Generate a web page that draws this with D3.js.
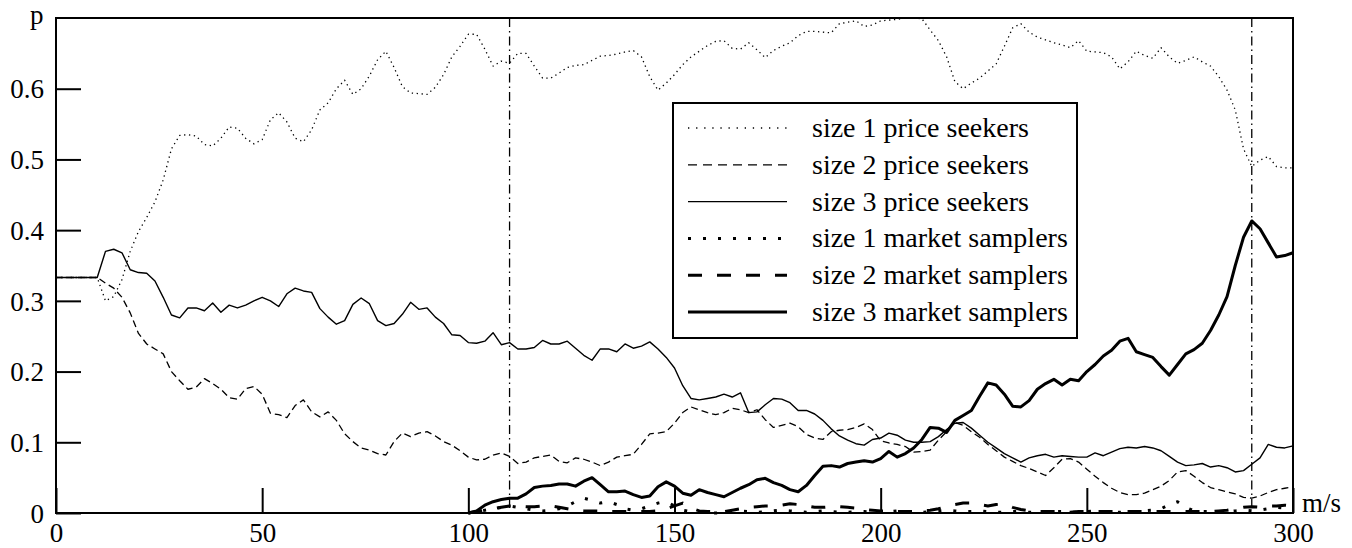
<!DOCTYPE html>
<html>
<head>
<meta charset="utf-8">
<script src="https://cdn.jsdelivr.net/npm/d3@7"></script>
<style>
  body { margin: 0; background: #fff; }
  svg { display: block; }
  text { font-family: "Liberation Serif", "Times New Roman", Times, serif; fill: #000; }
</style>
</head>
<body>
<svg id="chart" width="1352" height="548"></svg>
<script>
// one sample every 2 m/s; the market samplers only exist from 100 on
var step = 2;
var samplerStart = 100;

var size1PriceSeekers = [
  0.333, 0.333, 0.333, 0.333, 0.333, 0.333,
  0.300, 0.306, 0.330, 0.370, 0.398, 0.418, 0.440, 0.471, 0.515, 0.534,
  0.535, 0.533, 0.521, 0.519, 0.530, 0.546, 0.544, 0.530, 0.522, 0.528,
  0.556, 0.566, 0.553, 0.530, 0.525, 0.542, 0.570, 0.580, 0.600, 0.612,
  0.592, 0.600, 0.618, 0.641, 0.653, 0.630, 0.603, 0.594, 0.593, 0.592,
  0.602, 0.620, 0.645, 0.660, 0.677, 0.677, 0.656, 0.632, 0.639, 0.636,
  0.650, 0.650, 0.632, 0.615, 0.615, 0.622, 0.630, 0.633, 0.634, 0.640,
  0.646, 0.647, 0.649, 0.652, 0.654, 0.645, 0.617, 0.598, 0.608, 0.620,
  0.634, 0.645, 0.653, 0.661, 0.667, 0.668, 0.657, 0.656, 0.665, 0.655,
  0.644, 0.654, 0.660, 0.665, 0.675, 0.681, 0.681, 0.680, 0.679, 0.692,
  0.694, 0.696, 0.688, 0.690, 0.696, 0.697, 0.698, 0.700, 0.700, 0.699,
  0.683, 0.668, 0.645, 0.610, 0.600, 0.608, 0.615, 0.625, 0.635, 0.660,
  0.686, 0.692, 0.680, 0.673, 0.669, 0.665, 0.662, 0.658, 0.668, 0.653,
  0.652, 0.651, 0.645, 0.628, 0.638, 0.653, 0.647, 0.643, 0.658, 0.645,
  0.636, 0.640, 0.645, 0.638, 0.632, 0.617, 0.598, 0.570, 0.515, 0.490,
  0.499, 0.504, 0.490, 0.488, 0.488
];

var size2PriceSeekers = [
  0.333, 0.333, 0.333, 0.333, 0.333, 0.333,
  0.325, 0.318, 0.305, 0.283, 0.254, 0.239, 0.232, 0.225, 0.200, 0.187,
  0.175, 0.178, 0.190, 0.183, 0.175, 0.163, 0.161, 0.176, 0.179, 0.168,
  0.141, 0.139, 0.135, 0.152, 0.160, 0.143, 0.136, 0.143, 0.131, 0.112,
  0.101, 0.092, 0.089, 0.084, 0.082, 0.101, 0.113, 0.108, 0.113, 0.115,
  0.109, 0.101, 0.096, 0.088, 0.079, 0.075, 0.076, 0.082, 0.085, 0.080,
  0.070, 0.072, 0.078, 0.080, 0.082, 0.073, 0.071, 0.078, 0.076, 0.072,
  0.067, 0.072, 0.079, 0.081, 0.083, 0.097, 0.112, 0.113, 0.115, 0.127,
  0.142, 0.150, 0.146, 0.142, 0.139, 0.142, 0.148, 0.146, 0.142, 0.146,
  0.132, 0.121, 0.124, 0.127, 0.122, 0.111, 0.106, 0.104, 0.115, 0.117,
  0.118, 0.121, 0.126, 0.118, 0.102, 0.099, 0.097, 0.094, 0.086, 0.087,
  0.089, 0.103, 0.115, 0.128, 0.124, 0.115, 0.107, 0.097, 0.088, 0.079,
  0.073, 0.067, 0.063, 0.058, 0.053, 0.064, 0.076, 0.077, 0.072, 0.062,
  0.052, 0.043, 0.035, 0.029, 0.026, 0.026, 0.028, 0.033, 0.038, 0.046,
  0.058, 0.060, 0.052, 0.043, 0.036, 0.033, 0.030, 0.027, 0.022, 0.021,
  0.024, 0.029, 0.033, 0.035, 0.037
];

var size3PriceSeekers = [
  0.333, 0.333, 0.333, 0.333, 0.333, 0.333,
  0.370, 0.373, 0.368, 0.344, 0.340, 0.339, 0.328, 0.305, 0.280, 0.276,
  0.290, 0.290, 0.286, 0.297, 0.284, 0.294, 0.290, 0.294, 0.300, 0.305,
  0.300, 0.292, 0.310, 0.318, 0.314, 0.312, 0.289, 0.277, 0.267, 0.272,
  0.295, 0.304, 0.296, 0.272, 0.265, 0.268, 0.281, 0.298, 0.288, 0.290,
  0.277, 0.268, 0.252, 0.251, 0.241, 0.240, 0.243, 0.255, 0.238, 0.241,
  0.232, 0.232, 0.234, 0.244, 0.239, 0.239, 0.243, 0.233, 0.223, 0.216,
  0.232, 0.232, 0.228, 0.239, 0.233, 0.236, 0.242, 0.232, 0.220, 0.205,
  0.180, 0.162, 0.160, 0.162, 0.164, 0.168, 0.164, 0.170, 0.142, 0.143,
  0.153, 0.162, 0.161, 0.156, 0.145, 0.145, 0.140, 0.131, 0.119, 0.109,
  0.103, 0.098, 0.096, 0.104, 0.106, 0.113, 0.110, 0.103, 0.100, 0.100,
  0.101, 0.108, 0.118, 0.127, 0.128, 0.120, 0.110, 0.100, 0.092, 0.084,
  0.078, 0.072, 0.078, 0.081, 0.083, 0.079, 0.081, 0.080, 0.079, 0.079,
  0.085, 0.081, 0.086, 0.091, 0.093, 0.092, 0.094, 0.092, 0.088, 0.080,
  0.072, 0.067, 0.068, 0.070, 0.065, 0.067, 0.064, 0.058, 0.060, 0.069,
  0.078, 0.097, 0.093, 0.092, 0.095
];

var size1MarketSamplers = [
  0.000, 0.002, 0.004, 0.006, 0.008, 0.010, 0.008, 0.006, 0.004, 0.003,
  0.004, 0.006, 0.010, 0.016, 0.021, 0.018, 0.014, 0.016, 0.012, 0.006,
  0.004, 0.006, 0.010, 0.014, 0.016, 0.010, 0.004, 0.002, 0.001, 0.000,
  0.000, 0.001, 0.002, 0.003, 0.002, 0.001, 0.002, 0.003, 0.004, 0.003,
  0.002, 0.001, 0.002, 0.003, 0.002, 0.001, 0.001, 0.002, 0.002, 0.001,
  0.001, 0.002, 0.003, 0.002, 0.001, 0.001, 0.002, 0.003, 0.004, 0.003,
  0.002, 0.002, 0.003, 0.002, 0.001, 0.001, 0.002, 0.002, 0.001, 0.001,
  0.001, 0.002, 0.002, 0.001, 0.001, 0.002, 0.003, 0.002, 0.001, 0.001,
  0.002, 0.002, 0.003, 0.004, 0.006, 0.012, 0.016, 0.008, 0.003, 0.002,
  0.002, 0.001, 0.002, 0.003, 0.004, 0.003, 0.004, 0.006, 0.008, 0.007,
  0.006
];

var size2MarketSamplers = [
  0.000, 0.002, 0.004, 0.006, 0.008, 0.010, 0.010, 0.009, 0.009, 0.010,
  0.010, 0.008, 0.006, 0.004, 0.003, 0.003, 0.003, 0.002, 0.002, 0.002,
  0.002, 0.002, 0.002, 0.003, 0.006, 0.010, 0.014, 0.007, 0.003, 0.002,
  0.002, 0.002, 0.004, 0.006, 0.008, 0.009, 0.010, 0.010, 0.011, 0.013,
  0.012, 0.010, 0.008, 0.008, 0.009, 0.009, 0.008, 0.007, 0.005, 0.004,
  0.003, 0.003, 0.002, 0.002, 0.002, 0.003, 0.004, 0.006, 0.009, 0.012,
  0.014, 0.014, 0.012, 0.010, 0.012, 0.013, 0.008, 0.005, 0.003, 0.002,
  0.002, 0.002, 0.001, 0.001, 0.002, 0.002, 0.002, 0.002, 0.002, 0.002,
  0.002, 0.002, 0.002, 0.002, 0.002, 0.002, 0.002, 0.002, 0.002, 0.002,
  0.002, 0.003, 0.004, 0.006, 0.008, 0.009, 0.008, 0.010, 0.010, 0.011,
  0.010
];

var size3MarketSamplers = [
  0.000, 0.003, 0.011, 0.016, 0.019, 0.021, 0.021, 0.027, 0.036, 0.038,
  0.039, 0.041, 0.041, 0.038, 0.045, 0.050, 0.040, 0.030, 0.030, 0.031,
  0.026, 0.022, 0.024, 0.037, 0.044, 0.038, 0.028, 0.025, 0.033, 0.029,
  0.026, 0.023, 0.029, 0.035, 0.040, 0.047, 0.049, 0.043, 0.039, 0.033,
  0.030, 0.039, 0.053, 0.066, 0.067, 0.065, 0.070, 0.072, 0.074, 0.072,
  0.077, 0.087, 0.079, 0.084, 0.092, 0.104, 0.121, 0.120, 0.114, 0.131,
  0.138, 0.145, 0.165, 0.184, 0.181, 0.168, 0.151, 0.150, 0.159, 0.175,
  0.183, 0.189, 0.181, 0.189, 0.187, 0.200, 0.210, 0.222, 0.230, 0.243,
  0.247, 0.228, 0.224, 0.220, 0.207, 0.195, 0.210, 0.225, 0.231, 0.240,
  0.258, 0.280, 0.306, 0.350, 0.390, 0.413, 0.402, 0.382, 0.362, 0.364,
  0.368
];

var seriesNames = [
  "size 1 price seekers", "size 2 price seekers", "size 3 price seekers",
  "size 1 market samplers", "size 2 market samplers", "size 3 market samplers"
];
var xTicks = [0, 50, 100, 150, 200, 250, 300];
var yTicks = [0, 0.1, 0.2, 0.3, 0.4, 0.5, 0.6];
var markers = [110, 290];

var series = [
  { values: size1PriceSeekers,   start: 0,            width: 1.3, dash: "1.3,3.6", legendDash: "1.3,6.8" },
  { values: size2PriceSeekers,   start: 0,            width: 1.3, dash: "7,4",     legendDash: "9,6" },
  { values: size3PriceSeekers,   start: 0,            width: 1.4, dash: null,      legendDash: null },
  { values: size1MarketSamplers, start: samplerStart, width: 3,   dash: "3,12",    legendDash: "3,12" },
  { values: size2MarketSamplers, start: samplerStart, width: 3,   dash: "14,15",   legendDash: "14,15" },
  { values: size3MarketSamplers, start: samplerStart, width: 3,   dash: null,      legendDash: null }
];

var fontStack = '"Liberation Serif", "Times New Roman", Times, serif';

var svg = d3.select("#chart");
var margin = {left: 56, top: 18, right: 59, bottom: 35},
    width = +svg.attr("width") - margin.left - margin.right,
    height = +svg.attr("height") - margin.top - margin.bottom;

var g = svg.append("g")
  .attr("transform", "translate(" + margin.left + "," + margin.top + ")");

var x = d3.scaleLinear().domain([0, 300]).range([0, width]);
var y = d3.scaleLinear().domain([0, 0.7]).range([height, 0]);

// data lines
var line = d3.line()
  .x(function(d) { return x(d.m); })
  .y(function(d) { return y(d.p); });

series.forEach(function(s) {
  var pts = s.values.map(function(v, i) { return {m: s.start + i * step, p: v}; });
  g.append("path")
    .datum(pts)
    .attr("fill", "none")
    .attr("stroke", "#000")
    .attr("stroke-width", s.width)
    .attr("stroke-linejoin", "round")
    .attr("stroke-dasharray", s.dash)
    .attr("d", line);
});

// dash-dot markers
g.selectAll(".marker")
  .data(markers)
  .enter().append("line")
  .attr("class", "marker")
  .attr("x1", function(d) { return x(d); })
  .attr("x2", function(d) { return x(d); })
  .attr("y1", 0)
  .attr("y2", height)
  .attr("stroke", "#000")
  .attr("stroke-width", 1.3)
  .attr("stroke-dasharray", "9,4,1.5,4");

// axes with inward ticks
var yAxis = g.append("g")
  .call(d3.axisLeft(y).tickValues(yTicks).tickFormat(function(d) { return String(d); })
    .tickSizeInner(-25).tickSizeOuter(0).tickPadding(12));

var xAxis = g.append("g")
  .attr("transform", "translate(0," + height + ")")
  .call(d3.axisBottom(x).tickValues(xTicks).tickFormat(function(d) { return String(d); })
    .tickSizeInner(-25).tickSizeOuter(0).tickPadding(10));

[yAxis, xAxis].forEach(function(a) {
  a.attr("font-family", null).attr("font-size", null);
  a.select(".domain").remove();
  a.selectAll(".tick line").attr("stroke", "#000").attr("stroke-width", 2);
  a.selectAll("text")
    .attr("fill", "#000")
    .style("font-family", fontStack)
    .style("font-size", "27px");
});
yAxis.selectAll("text").attr("dy", "0.34em");

// frame
g.append("rect")
  .attr("width", width)
  .attr("height", height)
  .attr("fill", "none")
  .attr("stroke", "#000")
  .attr("stroke-width", 2);

// axis names
svg.append("text")
  .attr("x", 30)
  .attr("y", 24)
  .style("font-size", "27px")
  .text("p");

svg.append("text")
  .attr("x", margin.left + width + 9)
  .attr("y", margin.top + height - 1)
  .style("font-size", "27px")
  .text("m/s");

// legend
var legend = svg.append("g")
  .attr("transform", "translate(673,103)");

legend.append("rect")
  .attr("width", 404)
  .attr("height", 235)
  .attr("fill", "#fff")
  .attr("stroke", "#000")
  .attr("stroke-width", 2);

var row = legend.selectAll(".row")
  .data(series)
  .enter().append("g")
  .attr("class", "row")
  .attr("transform", function(d, i) { return "translate(0," + (25 + i * 36.8) + ")"; });

row.append("line")
  .attr("x1", 15)
  .attr("x2", 114)
  .attr("stroke", "#000")
  .attr("stroke-width", function(d) { return d.width; })
  .attr("stroke-dasharray", function(d) { return d.legendDash; });

row.append("text")
  .attr("x", 139)
  .attr("dy", "0.32em")
  .style("font-size", "28px")
  .text(function(d, i) { return seriesNames[i]; });
</script>
</body>
</html>
